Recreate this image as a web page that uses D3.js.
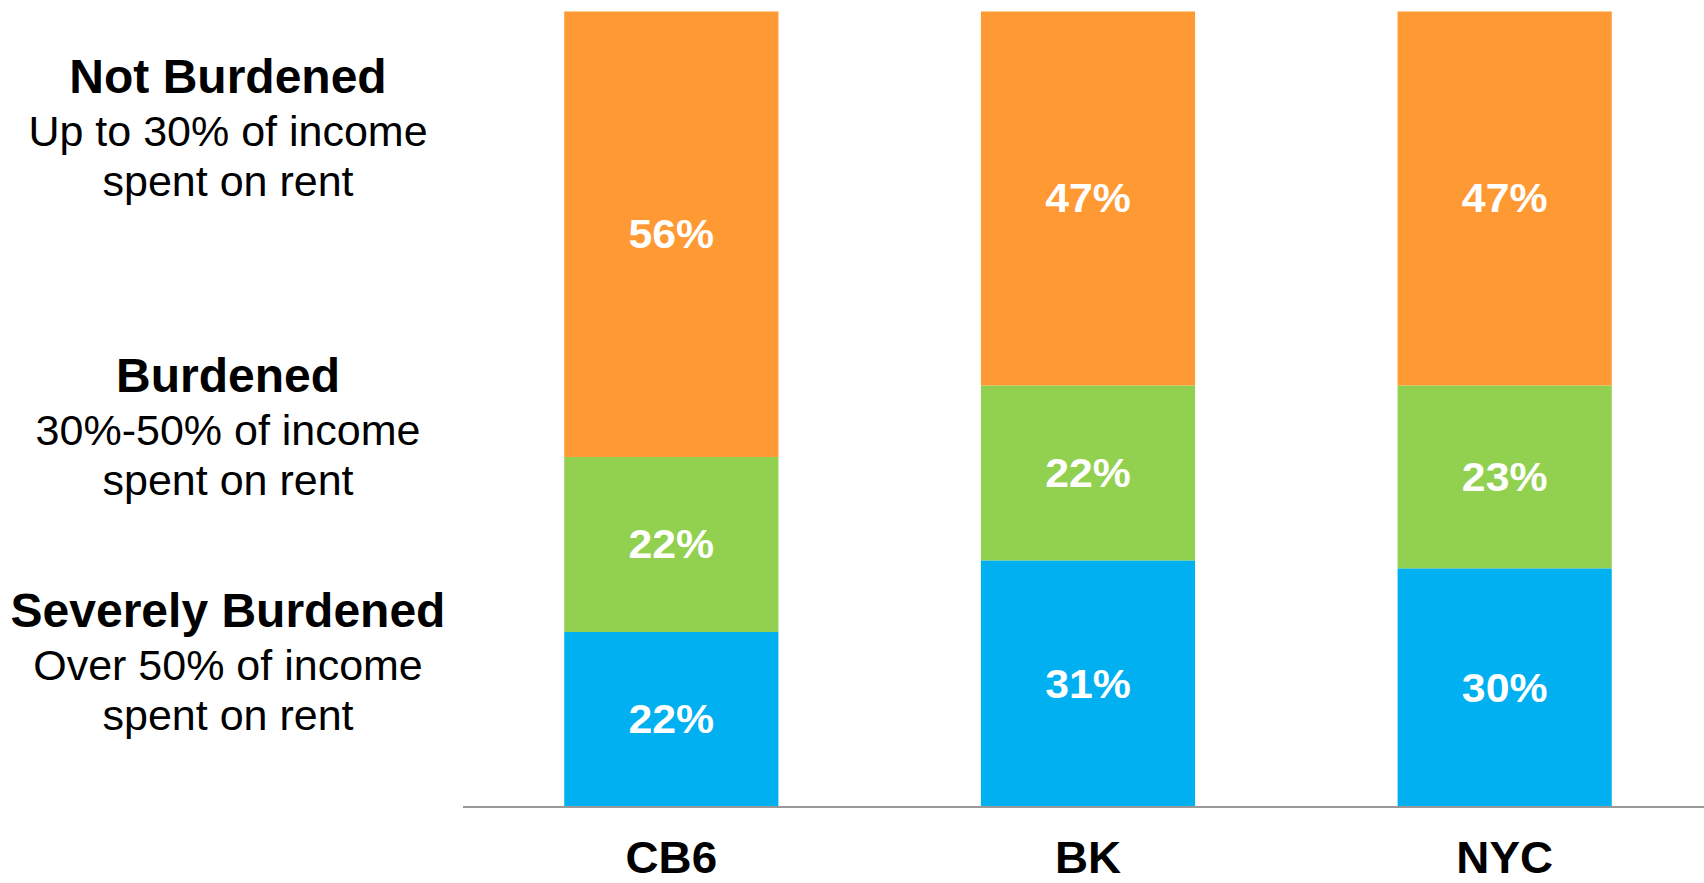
<!DOCTYPE html>
<html>
<head>
<meta charset="utf-8">
<script src="https://cdn.jsdelivr.net/npm/d3@7"></script>
<style>
  html, body { margin: 0; padding: 0; background: #fff; }
  svg { display: block; }
  text { font-family: "Liberation Sans", Arial, Helvetica, sans-serif; }
</style>
</head>
<body>
<svg id="chart" width="1704" height="883"></svg>
<script>
// ---- data ----
const categories = ["CB6", "BK", "NYC"];
const seriesNames = ["Severely Burdened", "Burdened", "Not Burdened"];
const severelyBurdened = [22, 31, 30];
const burdened = [22, 22, 23];
const notBurdened = [56, 47, 47];
const seriesColors = ["#00B0F0", "#92D050", "#FF9933"];

const legendTitles = ["Not Burdened", "Burdened", "Severely Burdened"];
const legendLine1 = ["Up to 30% of income", "30%-50% of income", "Over 50% of income"];
const legendLine2 = ["spent on rent", "spent on rent", "spent on rent"];

// ---- layout ----
const svg = d3.select("#chart");

const x = d3.scaleBand()
  .domain(categories)
  .range([463, 1713])
  .paddingInner(0.486)
  .paddingOuter(0.243);

const y = d3.scaleLinear().domain([0, 100]).range([807, 11.5]);

const rows = categories.map((c, i) => ({
  cat: c,
  "Severely Burdened": severelyBurdened[i],
  "Burdened": burdened[i],
  "Not Burdened": notBurdened[i]
}));

const stacked = d3.stack().keys(seriesNames)(rows);
const color = d3.scaleOrdinal().domain(seriesNames).range(seriesColors);

const layers = svg.append("g").selectAll("g")
  .data(stacked)
  .join("g")
  .attr("fill", d => color(d.key));

layers.selectAll("rect")
  .data(d => d)
  .join("rect")
  .attr("x", d => x(d.data.cat))
  .attr("width", x.bandwidth())
  .attr("y", d => y(d[1]))
  .attr("height", d => y(d[0]) - y(d[1]));

// value labels
layers.selectAll("text")
  .data(d => d)
  .join("text")
  .attr("transform", d => `translate(${x(d.data.cat) + x.bandwidth() / 2},${(y(d[0]) + y(d[1])) / 2 + 14}) scale(1.07,1)`)
  .attr("text-anchor", "middle")
  .attr("fill", "#fff")
  .attr("font-weight", "bold")
  .attr("font-size", 40)
  .text(d => (d[1] - d[0]) + "%");

// x axis
const xAxis = d3.axisBottom(x).tickSize(0).tickPadding(0);
const axisG = svg.append("g")
  .attr("transform", "translate(0,807)")
  .call(xAxis);
axisG.select(".domain")
  .attr("d", `M463,0H1704`)
  .attr("stroke", "#999")
  .attr("stroke-width", 2);
axisG.selectAll(".tick text")
  .attr("dy", null)
  .attr("y", 0)
  .attr("transform", "translate(0,66) scale(1.04,1)")
  .attr("fill", "#000")
  .attr("font-size", 44)
  .attr("font-weight", "bold")
  .attr("font-family", "'Liberation Sans', Arial, sans-serif");

// left legend labels
const legendY = [93, 392, 627];
const legend = svg.append("g");
legendTitles.forEach((t, i) => {
  const g = legend.append("g").attr("transform", `translate(228,${legendY[i]})`);
  g.append("text")
    .attr("text-anchor", "middle")
    .attr("font-weight", "bold")
    .attr("font-size", 48)
    .attr("fill", "#000")
    .text(t);
  g.append("text")
    .attr("text-anchor", "middle")
    .attr("y", 53)
    .attr("font-size", 43)
    .attr("fill", "#000")
    .text(legendLine1[i]);
  g.append("text")
    .attr("text-anchor", "middle")
    .attr("y", 103)
    .attr("font-size", 43)
    .attr("fill", "#000")
    .text(legendLine2[i]);
});
</script>
</body>
</html>
